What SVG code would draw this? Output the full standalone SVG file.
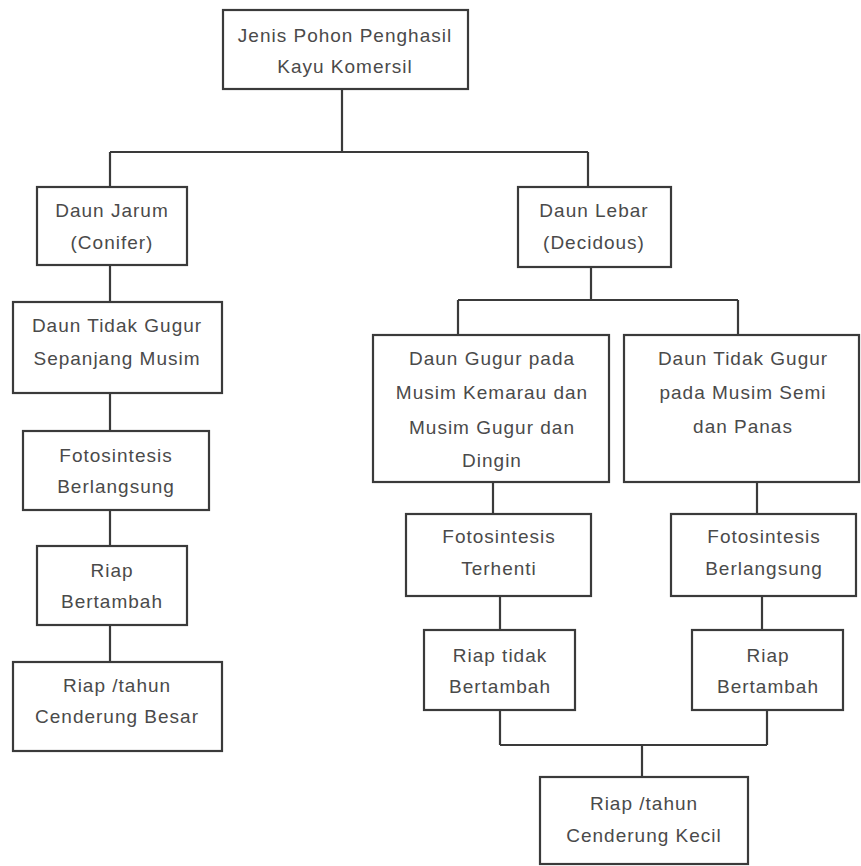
<svg xmlns="http://www.w3.org/2000/svg" width="861" height="866" viewBox="0 0 861 866">
<style>
.box{fill:#fff;stroke:#3a3a3a;stroke-width:2.2}
.conn{fill:none;stroke:#3a3a3a;stroke-width:2.2}
text{font-family:"Liberation Sans",Arial,sans-serif;font-size:19px;fill:#4a4a4a;text-anchor:middle;letter-spacing:1px}
</style>
<rect width="861" height="866" fill="#fff"/>
<g id="connectors">
<path class="conn" d="M342 89V152M110 152H588M110 152V187M588 152V187"/>
<path class="conn" d="M110 265V302M110 393V431M110 510V546M110 625V662"/>
<path class="conn" d="M591 267V300M458 300H738M458 300V335M738 300V335"/>
<path class="conn" d="M493 482V514M757 482V514M500 596V630M762 596V630"/>
<path class="conn" d="M500 710V745M767 710V745M500 745H767M642 745V777"/>
</g>
<g id="n-root"><rect class="box" x="223" y="10" width="245" height="79"/><text x="345" y="42">Jenis Pohon Penghasil</text><text x="345" y="73">Kayu Komersil</text></g>
<g id="n-jarum"><rect class="box" x="37" y="187" width="150" height="78"/><text x="112" y="217">Daun Jarum</text><text x="112" y="249">(Conifer)</text></g>
<g id="n-tidakgugur"><rect class="box" x="13" y="302" width="209" height="91"/><text x="117" y="332">Daun Tidak Gugur</text><text x="117" y="365">Sepanjang Musim</text></g>
<g id="n-foto1"><rect class="box" x="23" y="431" width="186" height="79"/><text x="116" y="462">Fotosintesis</text><text x="116" y="493">Berlangsung</text></g>
<g id="n-riap1"><rect class="box" x="37" y="546" width="150" height="79"/><text x="112" y="577">Riap</text><text x="112" y="608">Bertambah</text></g>
<g id="n-besar"><rect class="box" x="13" y="662" width="209" height="89"/><text x="117" y="692">Riap /tahun</text><text x="117" y="723">Cenderung Besar</text></g>
<g id="n-lebar"><rect class="box" x="518" y="187" width="153" height="80"/><text x="594" y="217">Daun Lebar</text><text x="594" y="249">(Decidous)</text></g>
<g id="n-gugur"><rect class="box" x="373" y="335" width="236" height="147"/><text x="492" y="365">Daun Gugur pada</text><text x="492" y="399">Musim Kemarau dan</text><text x="492" y="434">Musim Gugur dan</text><text x="492" y="467">Dingin</text></g>
<g id="n-tidakgugur2"><rect class="box" x="624" y="335" width="235" height="147"/><text x="743" y="365">Daun Tidak Gugur</text><text x="743" y="399">pada Musim Semi</text><text x="743" y="433">dan Panas</text></g>
<g id="n-foto2"><rect class="box" x="406" y="514" width="185" height="82"/><text x="499" y="543">Fotosintesis</text><text x="499" y="575">Terhenti</text></g>
<g id="n-foto3"><rect class="box" x="671" y="514" width="185" height="82"/><text x="764" y="543">Fotosintesis</text><text x="764" y="575">Berlangsung</text></g>
<g id="n-riap2"><rect class="box" x="424" y="630" width="151" height="80"/><text x="500" y="662">Riap tidak</text><text x="500" y="693">Bertambah</text></g>
<g id="n-riap3"><rect class="box" x="692" y="630" width="151" height="80"/><text x="768" y="662">Riap</text><text x="768" y="693">Bertambah</text></g>
<g id="n-kecil"><rect class="box" x="540" y="777" width="208" height="87"/><text x="644" y="810">Riap /tahun</text><text x="644" y="842">Cenderung Kecil</text></g>
</svg>
